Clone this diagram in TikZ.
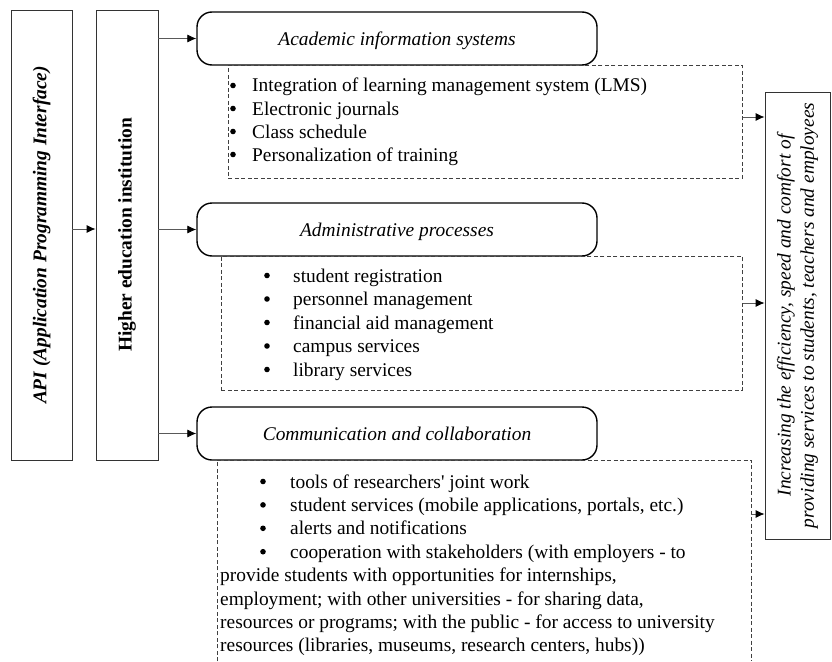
\documentclass[tikz,border=0pt]{standalone}
\usepackage{fontspec}
\setmainfont{Liberation Serif}
\usetikzlibrary{arrows.meta}
\begin{document}
\begin{tikzpicture}[x=1pt,y=-1pt,
  every node/.style={font=\fontsize{19.4}{23.4}\selectfont, inner sep=0pt},
  plainbox/.style={draw=black!80, line width=0.8pt},
  headbox/.style={draw=black, line width=1.4pt, rounded corners=15pt,
    minimum width=400pt, minimum height=53pt, text height=14pt, text depth=0pt,
    font=\fontsize{19.4}{23.4}\selectfont\itshape},
  dashbox/.style={draw=black!75, dashed, dash pattern=on 4pt off 2.5pt, line width=0.7pt},
  link/.style={draw=black!65, line width=0.8pt, -{Latex[length=9pt,width=8pt,color=black]}},
  itemtext/.style={anchor=base west},
  dot/.style={circle, fill=black, minimum size=5.6pt},
]
\useasboundingbox (0,0) rectangle (832,661);

% left column: interface and institution
\node[plainbox, rotate=90, minimum width=450pt, minimum height=61pt,
      font=\fontsize{19.4}{23.4}\selectfont\bfseries\itshape]
  (api) at (41.5,235) {API (Application Programming Interface)};
\node[plainbox, rotate=90, minimum width=450pt, minimum height=62pt,
      font=\fontsize{19.4}{23.4}\selectfont\bfseries]
  (hei) at (127,235) {Higher education institution};

% headed groups
\node[headbox] (h1) at (397,38.5) {Academic information systems};
\node[headbox] (h2) at (397,229.5) {Administrative processes};
\node[headbox] (h3) at (397,433.5) {Communication and collaboration};

% dashed detail boxes
\node[dashbox, minimum width=514pt, minimum height=113pt, anchor=north west] (d1) at (228,65) {};
\node[dashbox, minimum width=521pt, minimum height=134pt, anchor=north west] (d2) at (221,256) {};
\node[minimum width=534pt, minimum height=201pt, anchor=north west] (d3) at (217,460) {};
\draw[dashbox] (d3.south west) -- (d3.north west) -- (d3.north east) -- (d3.south east);

% outcome box
\node[plainbox, rotate=90, minimum width=447pt, minimum height=65pt, align=center,
      font=\fontsize{19.4}{23.4}\selectfont\itshape]
  (out) at (797.5,315.5) {Increasing the efficiency, speed and comfort of\\
  providing services to students, teachers and employees};

% connectors
\draw[link] (api.south |- 0,229) -- (hei.north |- 0,229);
\draw[link] (hei.south |- h1.west) -- (h1.west);
\draw[link] (hei.south |- h2.west) -- (h2.west);
\draw[link] (hei.south |- h3.west) -- (h3.west);
\draw[link] (d1.east |- 0,117) -- (out.north |- 0,117);
\draw[link] (d2.east |- 0,303) -- (out.north |- 0,303);
\draw[link] (d3.east |- 0,514) -- (out.north |- 0,514);

% items: academic information systems
\foreach \y/\t [count=\i] in {92/Integration of learning management system (LMS),
    115/Electronic journals, 138/Class schedule, 161/Personalization of training}{
  \node[dot] (a\i b) at (233,\y-6.5) {};
  \node[itemtext] (a\i) at (252,\y) {\t};
}

% items: administrative processes
\foreach \y/\t [count=\i] in {282/student registration, 305.5/personnel management,
    329/financial aid management, 352.5/campus services, 376/library services}{
  \node[dot] (p\i b) at (267,\y-6.5) {};
  \node[itemtext] (p\i) at (293,\y) {\t};
}

% items: communication and collaboration
\foreach \y/\t [count=\i] in {488/tools of researchers\textquotesingle\ joint work,
    511.4/{student services (mobile applications, portals, etc.)},
    534.8/alerts and notifications,
    558.2/{cooperation with stakeholders (with employers - to}}{
  \node[dot] (c\i b) at (263,\y-6.5) {};
  \node[itemtext] (c\i) at (290,\y) {\t};
}
\node[itemtext] (c5) at (220,581.6) {provide students with opportunities for internships,};
\node[itemtext] (c6) at (220,605) {employment; with other universities - for sharing data,};
\node[itemtext] (c7) at (220,628.4) {resources or programs; with the public - for access to university};
\node[itemtext] (c8) at (220,651.8) {resources (libraries, museums, research centers, hubs))};
\end{tikzpicture}
\end{document}
